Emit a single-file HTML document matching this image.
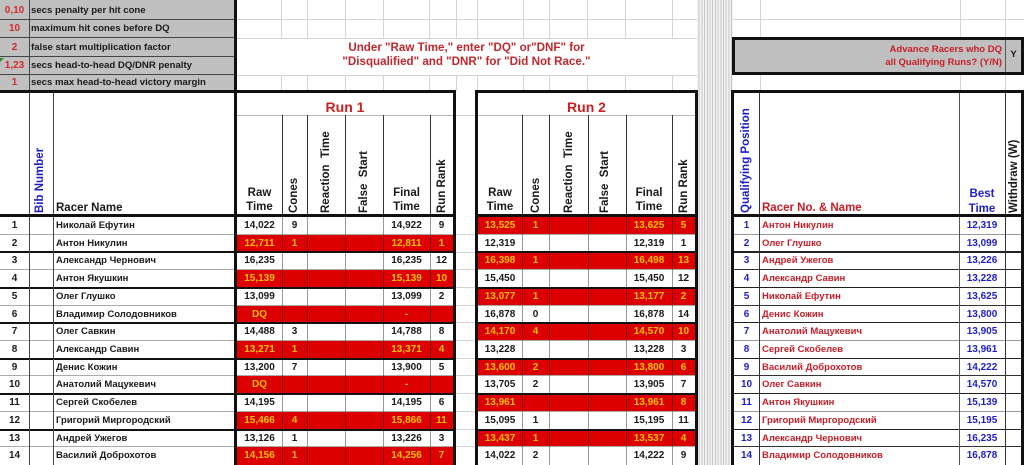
<!DOCTYPE html>
<html><head><meta charset="utf-8">
<style>
*{margin:0;padding:0;box-sizing:border-box}
body{width:1024px;height:465px;overflow:hidden;background:#fff;position:relative;font-family:"Liberation Sans",Arial,sans-serif;font-weight:bold;color:#1a1a1a;font-size:10px}
.a{position:absolute}
.gh{position:absolute;height:1px;background:#d4d4d4}
.gv{position:absolute;width:1px;background:#d4d4d4}
.row{position:absolute;left:0;width:1024px}
.row span{position:absolute;top:0;height:100%;text-align:center;white-space:nowrap}
.row i{position:absolute;top:0;height:100%;background:#dc0000}
.n{left:0;width:29px}
.nm{left:56px;text-align:left!important;font-size:9.5px}
.a1{left:237px;width:45px}.b1{left:282px;width:25px}.f1{left:383px;width:47px}.k1{left:430px;width:23px}
.a2{left:478px;width:44px}.b2{left:522px;width:27px}.f2{left:626px;width:46px}.k2{left:672px;width:23px}
.qp{left:734px;width:25px;color:#1e1ec8}
.qn{left:762px;text-align:left!important;color:#c81e28;font-size:9.5px}
.qb{left:959px;width:46px;color:#1e1ec8}
.R1{left:237px;width:216px}.R2{left:478px;width:217px}
.y{color:#ffc000}
.rot{position:absolute;writing-mode:vertical-rl;transform:rotate(180deg);white-space:nowrap;line-height:14px;font-size:11.5px;width:14px;text-align:start;top:96px;height:117px}
.hd{position:absolute;text-align:center;font-size:11.5px;line-height:14px;white-space:nowrap}
.tb{position:absolute;left:0;width:236px;font-size:9.6px}
.tb b{position:absolute;left:0;width:29px;text-align:center;color:#d42a2a;font-size:10px}
.tb em{position:absolute;left:31px;font-style:normal}
.tk{position:absolute;background:#111}
</style></head><body>

<!-- top open-area gridlines -->
<div class="gh" style="left:236px;top:19px;width:461px"></div>
<div class="gh" style="left:236px;top:38px;width:461px"></div>
<div class="gh" style="left:236px;top:75px;width:461px"></div>
<div class="gh" style="left:733px;top:19px;width:291px"></div>
<div class="gv" style="left:281px;top:0;height:38px"></div><div class="gv" style="left:281px;top:75px;height:16px"></div>
<div class="gv" style="left:307px;top:0;height:38px"></div><div class="gv" style="left:307px;top:75px;height:16px"></div>
<div class="gv" style="left:345px;top:0;height:38px"></div><div class="gv" style="left:345px;top:75px;height:16px"></div>
<div class="gv" style="left:383px;top:0;height:38px"></div><div class="gv" style="left:383px;top:75px;height:16px"></div>
<div class="gv" style="left:429px;top:0;height:38px"></div><div class="gv" style="left:429px;top:75px;height:16px"></div>
<div class="gv" style="left:456px;top:0;height:38px"></div><div class="gv" style="left:456px;top:75px;height:16px"></div>
<div class="gv" style="left:477px;top:0;height:38px"></div><div class="gv" style="left:477px;top:75px;height:16px"></div>
<div class="gv" style="left:523px;top:0;height:38px"></div><div class="gv" style="left:523px;top:75px;height:16px"></div>
<div class="gv" style="left:549px;top:0;height:38px"></div><div class="gv" style="left:549px;top:75px;height:16px"></div>
<div class="gv" style="left:587px;top:0;height:38px"></div><div class="gv" style="left:587px;top:75px;height:16px"></div>
<div class="gv" style="left:625px;top:0;height:38px"></div><div class="gv" style="left:625px;top:75px;height:16px"></div>
<div class="gv" style="left:672px;top:0;height:38px"></div><div class="gv" style="left:672px;top:75px;height:16px"></div>
<div class="gv" style="left:760px;top:0;height:37px"></div><div class="gv" style="left:760px;top:75px;height:16px"></div>
<div class="gv" style="left:960px;top:0;height:37px"></div><div class="gv" style="left:960px;top:75px;height:16px"></div>
<div class="gv" style="left:1005px;top:0;height:37px"></div><div class="gv" style="left:1005px;top:75px;height:16px"></div>

<!-- narrow hidden columns -->
<div class="a" style="left:697px;top:0;width:36px;height:465px;background:repeating-linear-gradient(90deg,#f3f3f3 0,#f3f3f3 1.7px,#c4c4c4 1.7px,#c4c4c4 2.7px)"></div>

<!-- message -->
<div class="a" style="left:236px;top:41px;width:461px;text-align:center;color:#c0282d;font-size:11.6px;line-height:14px">Under &quot;Raw Time,&quot; enter &quot;DQ&quot; or&quot;DNF&quot; for<br>&quot;Disqualified&quot; and &quot;DNR&quot; for &quot;Did Not Race.&quot;</div>

<!-- top-left settings box -->
<div class="a" style="left:0;top:0;width:237px;height:91px;background:#c0c0c0"></div>
<div class="tb" style="top:0;height:19px;line-height:21px"><b>0,10</b><em>secs penalty per hit cone</em></div>
<div class="tb" style="top:19px;height:19px;line-height:20px"><b>10</b><em>maximum hit cones before DQ</em></div>
<div class="tb" style="top:38px;height:18px;line-height:19px"><b>2</b><em>false start multiplication factor</em></div>
<div class="tb" style="top:56px;height:19px;line-height:20px"><b>1,23</b><em>secs head-to-head DQ/DNR penalty</em></div>
<div class="tb" style="top:75px;height:15px;line-height:16px"><b>1</b><em>secs max head-to-head victory margin</em></div>
<div class="a" style="left:0;top:19px;width:234px;height:1px;background:#444"></div>
<div class="a" style="left:0;top:37px;width:234px;height:1px;background:#444"></div>
<div class="a" style="left:0;top:56px;width:234px;height:1px;background:#444"></div>
<div class="a" style="left:0;top:74px;width:234px;height:1px;background:#444"></div>
<div class="a" style="left:29px;top:0;width:1px;height:91px;background:#444"></div>
<div class="a" style="left:0;top:58px;width:0;height:0;border-top:4px solid #2a8a2a;border-right:4px solid transparent"></div>

<!-- Advance box -->
<div class="a" style="left:732px;top:37px;width:292px;height:38px;background:#c0c0c0;border:3px solid #111"></div>
<div class="a" style="left:1005px;top:40px;width:1px;height:32px;background:#555"></div>
<div class="a" style="left:740px;top:43px;width:262px;text-align:right;color:#c81e28;font-size:9.5px;line-height:13px">Advance Racers who DQ<br>all Qualifying Runs? (Y/N)</div>
<div class="a" style="left:1006px;top:49px;width:15px;text-align:center;font-size:9.5px">Y</div>

<!-- row 73-91 right gridlines handled above; gap column row gridlines -->
<div class="gh" style="left:456px;top:115px;width:19px"></div>

<!-- headers -->
<div class="a" style="left:237px;top:98px;width:216px;text-align:center;color:#cc1f1f;font-size:14px;line-height:18px">Run 1</div>
<div class="a" style="left:478px;top:98px;width:217px;text-align:center;color:#cc1f1f;font-size:14px;line-height:18px">Run 2</div>
<div class="a" style="left:237px;top:115px;width:216px;height:1px;background:#bbb"></div>
<div class="a" style="left:478px;top:115px;width:217px;height:1px;background:#bbb"></div>

<div class="rot" style="left:33px;color:#1e1ec8">Bib Number</div>
<div class="hd" style="left:56px;top:201px">Racer Name</div>
<div class="hd" style="left:237px;top:186px;width:45px">Raw<br>Time</div>
<div class="rot" style="left:287px">Cones</div>
<div class="rot" style="left:319px">Reaction&nbsp; Time</div>
<div class="rot" style="left:357px">False&nbsp; Start</div>
<div class="hd" style="left:383px;top:186px;width:47px">Final<br>Time</div>
<div class="rot" style="left:435px">Run Rank</div>

<div class="hd" style="left:478px;top:186px;width:44px">Raw<br>Time</div>
<div class="rot" style="left:529px">Cones</div>
<div class="rot" style="left:562px">Reaction&nbsp; Time</div>
<div class="rot" style="left:598px">False&nbsp; Start</div>
<div class="hd" style="left:626px;top:186px;width:46px">Final<br>Time</div>
<div class="rot" style="left:677px">Run Rank</div>

<div class="rot" style="left:739px;color:#1e1ec8">Qualifying Position</div>
<div class="hd" style="left:762px;top:201px;color:#c81e28">Racer No. &amp; Name</div>
<div class="hd" style="left:959px;top:187px;width:46px;color:#1e1ec8;line-height:15px">Best<br>Time</div>
<div class="rot" style="left:1007px">Withdraw (W)</div>

<!-- data rows -->
<div class="row" style="top:217px;height:18px;line-height:18px"><i class="R2"></i><span class="n">1</span><span class="nm">Николай Ефутин</span><span class="a1">14,022</span><span class="b1">9</span><span class="f1">14,922</span><span class="k1">9</span><span class="a2 y">13,525</span><span class="b2 y">1</span><span class="f2 y">13,625</span><span class="k2 y">5</span><span class="qp">1</span><span class="qn">Антон Никулин</span><span class="qb">12,319</span></div>
<div class="row" style="top:235px;height:17px;line-height:17px"><i class="R1"></i><span class="n">2</span><span class="nm">Антон Никулин</span><span class="a1 y">12,711</span><span class="b1 y">1</span><span class="f1 y">12,811</span><span class="k1 y">1</span><span class="a2">12,319</span><span class="f2">12,319</span><span class="k2">1</span><span class="qp">2</span><span class="qn">Олег Глушко</span><span class="qb">13,099</span></div>
<div class="row" style="top:252px;height:18px;line-height:18px"><i class="R2"></i><span class="n">3</span><span class="nm">Александр Чернович</span><span class="a1">16,235</span><span class="f1">16,235</span><span class="k1">12</span><span class="a2 y">16,398</span><span class="b2 y">1</span><span class="f2 y">16,498</span><span class="k2 y">13</span><span class="qp">3</span><span class="qn">Андрей Ужегов</span><span class="qb">13,226</span></div>
<div class="row" style="top:270px;height:18px;line-height:18px"><i class="R1"></i><span class="n">4</span><span class="nm">Антон Якушкин</span><span class="a1 y">15,139</span><span class="f1 y">15,139</span><span class="k1 y">10</span><span class="a2">15,450</span><span class="f2">15,450</span><span class="k2">12</span><span class="qp">4</span><span class="qn">Александр Савин</span><span class="qb">13,228</span></div>
<div class="row" style="top:288px;height:18px;line-height:18px"><i class="R2"></i><span class="n">5</span><span class="nm">Олег Глушко</span><span class="a1">13,099</span><span class="f1">13,099</span><span class="k1">2</span><span class="a2 y">13,077</span><span class="b2 y">1</span><span class="f2 y">13,177</span><span class="k2 y">2</span><span class="qp">5</span><span class="qn">Николай Ефутин</span><span class="qb">13,625</span></div>
<div class="row" style="top:306px;height:17px;line-height:17px"><i class="R1"></i><span class="n">6</span><span class="nm">Владимир Солодовников</span><span class="a1 y">DQ</span><span class="f1 y">-</span><span class="a2">16,878</span><span class="b2">0</span><span class="f2">16,878</span><span class="k2">14</span><span class="qp">6</span><span class="qn">Денис Кожин</span><span class="qb">13,800</span></div>
<div class="row" style="top:323px;height:18px;line-height:18px"><i class="R2"></i><span class="n">7</span><span class="nm">Олег Савкин</span><span class="a1">14,488</span><span class="b1">3</span><span class="f1">14,788</span><span class="k1">8</span><span class="a2 y">14,170</span><span class="b2 y">4</span><span class="f2 y">14,570</span><span class="k2 y">10</span><span class="qp">7</span><span class="qn">Анатолий Мацукевич</span><span class="qb">13,905</span></div>
<div class="row" style="top:341px;height:18px;line-height:18px"><i class="R1"></i><span class="n">8</span><span class="nm">Александр Савин</span><span class="a1 y">13,271</span><span class="b1 y">1</span><span class="f1 y">13,371</span><span class="k1 y">4</span><span class="a2">13,228</span><span class="f2">13,228</span><span class="k2">3</span><span class="qp">8</span><span class="qn">Сергей Скобелев</span><span class="qb">13,961</span></div>
<div class="row" style="top:359px;height:17px;line-height:17px"><i class="R2"></i><span class="n">9</span><span class="nm">Денис Кожин</span><span class="a1">13,200</span><span class="b1">7</span><span class="f1">13,900</span><span class="k1">5</span><span class="a2 y">13,600</span><span class="b2 y">2</span><span class="f2 y">13,800</span><span class="k2 y">6</span><span class="qp">9</span><span class="qn">Василий Доброхотов</span><span class="qb">14,222</span></div>
<div class="row" style="top:376px;height:18px;line-height:18px"><i class="R1"></i><span class="n">10</span><span class="nm">Анатолий Мацукевич</span><span class="a1 y">DQ</span><span class="f1 y">-</span><span class="a2">13,705</span><span class="b2">2</span><span class="f2">13,905</span><span class="k2">7</span><span class="qp">10</span><span class="qn">Олег Савкин</span><span class="qb">14,570</span></div>
<div class="row" style="top:394px;height:18px;line-height:18px"><i class="R2"></i><span class="n">11</span><span class="nm">Сергей Скобелев</span><span class="a1">14,195</span><span class="f1">14,195</span><span class="k1">6</span><span class="a2 y">13,961</span><span class="f2 y">13,961</span><span class="k2 y">8</span><span class="qp">11</span><span class="qn">Антон Якушкин</span><span class="qb">15,139</span></div>
<div class="row" style="top:412px;height:18px;line-height:18px"><i class="R1"></i><span class="n">12</span><span class="nm">Григорий Миргородский</span><span class="a1 y">15,466</span><span class="b1 y">4</span><span class="f1 y">15,866</span><span class="k1 y">11</span><span class="a2">15,095</span><span class="b2">1</span><span class="f2">15,195</span><span class="k2">11</span><span class="qp">12</span><span class="qn">Григорий Миргородский</span><span class="qb">15,195</span></div>
<div class="row" style="top:430px;height:17px;line-height:17px"><i class="R2"></i><span class="n">13</span><span class="nm">Андрей Ужегов</span><span class="a1">13,126</span><span class="b1">1</span><span class="f1">13,226</span><span class="k1">3</span><span class="a2 y">13,437</span><span class="b2 y">1</span><span class="f2 y">13,537</span><span class="k2 y">4</span><span class="qp">13</span><span class="qn">Александр Чернович</span><span class="qb">16,235</span></div>
<div class="row" style="top:447px;height:18px;line-height:18px"><i class="R1"></i><span class="n">14</span><span class="nm">Василий Доброхотов</span><span class="a1 y">14,156</span><span class="b1 y">1</span><span class="f1 y">14,256</span><span class="k1 y">7</span><span class="a2">14,022</span><span class="b2">2</span><span class="f2">14,222</span><span class="k2">9</span><span class="qp">14</span><span class="qn">Владимир Солодовников</span><span class="qb">16,878</span></div>

<!-- row boundary lines: thin after odd rows, thick after even rows -->
<div class="a" style="left:0;top:234px;width:453px;height:1px;background:#aaa"></div>
<div class="a" style="left:478px;top:234px;width:217px;height:1px;background:#aaa"></div>
<div class="a" style="left:0;top:251px;width:695px;height:2px;background:#111"></div>
<div class="a" style="left:0;top:269px;width:453px;height:1px;background:#aaa"></div>
<div class="a" style="left:478px;top:269px;width:217px;height:1px;background:#aaa"></div>
<div class="a" style="left:0;top:287px;width:695px;height:2px;background:#111"></div>
<div class="a" style="left:0;top:305px;width:453px;height:1px;background:#aaa"></div>
<div class="a" style="left:478px;top:305px;width:217px;height:1px;background:#aaa"></div>
<div class="a" style="left:0;top:322px;width:695px;height:2px;background:#111"></div>
<div class="a" style="left:0;top:340px;width:453px;height:1px;background:#aaa"></div>
<div class="a" style="left:478px;top:340px;width:217px;height:1px;background:#aaa"></div>
<div class="a" style="left:0;top:358px;width:695px;height:2px;background:#111"></div>
<div class="a" style="left:0;top:375px;width:453px;height:1px;background:#aaa"></div>
<div class="a" style="left:478px;top:375px;width:217px;height:1px;background:#aaa"></div>
<div class="a" style="left:0;top:393px;width:695px;height:2px;background:#111"></div>
<div class="a" style="left:0;top:411px;width:453px;height:1px;background:#aaa"></div>
<div class="a" style="left:478px;top:411px;width:217px;height:1px;background:#aaa"></div>
<div class="a" style="left:0;top:429px;width:695px;height:2px;background:#111"></div>
<div class="a" style="left:0;top:446px;width:453px;height:1px;background:#aaa"></div>
<div class="a" style="left:478px;top:446px;width:217px;height:1px;background:#aaa"></div>
<!-- gap column gridlines (white over thick lines) -->
<div class="a" style="left:456px;top:217px;width:19px;height:248px;background:#fff"></div>
<div class="gh" style="left:456px;top:234px;width:19px"></div><div class="gh" style="left:456px;top:252px;width:19px"></div>
<div class="gh" style="left:456px;top:269px;width:19px"></div><div class="gh" style="left:456px;top:287px;width:19px"></div>
<div class="gh" style="left:456px;top:305px;width:19px"></div><div class="gh" style="left:456px;top:322px;width:19px"></div>
<div class="gh" style="left:456px;top:340px;width:19px"></div><div class="gh" style="left:456px;top:358px;width:19px"></div>
<div class="gh" style="left:456px;top:375px;width:19px"></div><div class="gh" style="left:456px;top:393px;width:19px"></div>
<div class="gh" style="left:456px;top:411px;width:19px"></div><div class="gh" style="left:456px;top:429px;width:19px"></div>
<div class="gh" style="left:456px;top:446px;width:19px"></div>

<!-- qualifying row lines -->
<div class="a" style="left:734px;top:234px;width:287px;height:1px;background:#999"></div>
<div class="a" style="left:734px;top:251px;width:287px;height:2px;background:#222"></div>
<div class="a" style="left:734px;top:269px;width:287px;height:1px;background:#333"></div>
<div class="a" style="left:734px;top:287px;width:287px;height:1px;background:#222"></div>
<div class="a" style="left:734px;top:305px;width:287px;height:1px;background:#333"></div>
<div class="a" style="left:734px;top:322px;width:287px;height:1px;background:#222"></div>
<div class="a" style="left:734px;top:340px;width:287px;height:1px;background:#999"></div>
<div class="a" style="left:734px;top:358px;width:287px;height:1px;background:#222"></div>
<div class="a" style="left:734px;top:375px;width:287px;height:1px;background:#333"></div>
<div class="a" style="left:734px;top:393px;width:287px;height:1px;background:#222"></div>
<div class="a" style="left:734px;top:411px;width:287px;height:1px;background:#999"></div>
<div class="a" style="left:734px;top:429px;width:287px;height:1px;background:#222"></div>
<div class="a" style="left:734px;top:446px;width:287px;height:1px;background:#333"></div>

<!-- column lines -->
<div class="a" style="left:29px;top:91px;width:1px;height:374px;background:#444"></div>
<div class="a" style="left:53px;top:91px;width:1px;height:374px;background:#444"></div>
<div class="a" style="left:282px;top:115px;width:1px;height:100px;background:#333"></div>
<div class="a" style="left:307px;top:115px;width:1px;height:100px;background:#333"></div>
<div class="a" style="left:345px;top:115px;width:1px;height:100px;background:#333"></div>
<div class="a" style="left:383px;top:115px;width:1px;height:100px;background:#333"></div>
<div class="a" style="left:430px;top:115px;width:1px;height:100px;background:#333"></div>
<div class="a" style="left:522px;top:115px;width:1px;height:100px;background:#333"></div>
<div class="a" style="left:549px;top:115px;width:1px;height:100px;background:#333"></div>
<div class="a" style="left:588px;top:115px;width:1px;height:100px;background:#333"></div>
<div class="a" style="left:626px;top:115px;width:1px;height:100px;background:#333"></div>
<div class="a" style="left:672px;top:115px;width:1px;height:100px;background:#333"></div>
<div class="a" style="left:282px;top:217px;width:1px;height:248px;background:rgba(0,0,0,.4)"></div>
<div class="a" style="left:307px;top:217px;width:1px;height:248px;background:rgba(0,0,0,.4)"></div>
<div class="a" style="left:345px;top:217px;width:1px;height:248px;background:rgba(0,0,0,.4)"></div>
<div class="a" style="left:383px;top:217px;width:1px;height:248px;background:rgba(0,0,0,.4)"></div>
<div class="a" style="left:430px;top:217px;width:1px;height:248px;background:rgba(0,0,0,.4)"></div>
<div class="a" style="left:522px;top:217px;width:1px;height:248px;background:rgba(0,0,0,.4)"></div>
<div class="a" style="left:549px;top:217px;width:1px;height:248px;background:rgba(0,0,0,.4)"></div>
<div class="a" style="left:588px;top:217px;width:1px;height:248px;background:rgba(0,0,0,.4)"></div>
<div class="a" style="left:626px;top:217px;width:1px;height:248px;background:rgba(0,0,0,.4)"></div>
<div class="a" style="left:672px;top:217px;width:1px;height:248px;background:rgba(0,0,0,.4)"></div>
<div class="a" style="left:759px;top:91px;width:1px;height:374px;background:#333"></div>
<div class="a" style="left:959px;top:91px;width:1px;height:374px;background:#555"></div>
<div class="a" style="left:1005px;top:91px;width:1px;height:374px;background:#333"></div>

<!-- thick borders -->
<div class="tk" style="left:0;top:90px;width:456px;height:3px"></div>
<div class="tk" style="left:475px;top:90px;width:223px;height:3px"></div>
<div class="tk" style="left:731px;top:90px;width:293px;height:3px"></div>
<div class="tk" style="left:0;top:214px;width:456px;height:3px"></div>
<div class="tk" style="left:475px;top:214px;width:223px;height:3px"></div>
<div class="tk" style="left:731px;top:214px;width:293px;height:3px"></div>
<div class="tk" style="left:234px;top:0;width:3px;height:465px"></div>
<div class="tk" style="left:453px;top:90px;width:3px;height:375px"></div>
<div class="tk" style="left:475px;top:90px;width:3px;height:375px"></div>
<div class="tk" style="left:695px;top:90px;width:3px;height:375px"></div>
<div class="tk" style="left:731px;top:90px;width:3px;height:375px"></div>
<div class="tk" style="left:1021px;top:90px;width:3px;height:375px"></div>

</body></html>
